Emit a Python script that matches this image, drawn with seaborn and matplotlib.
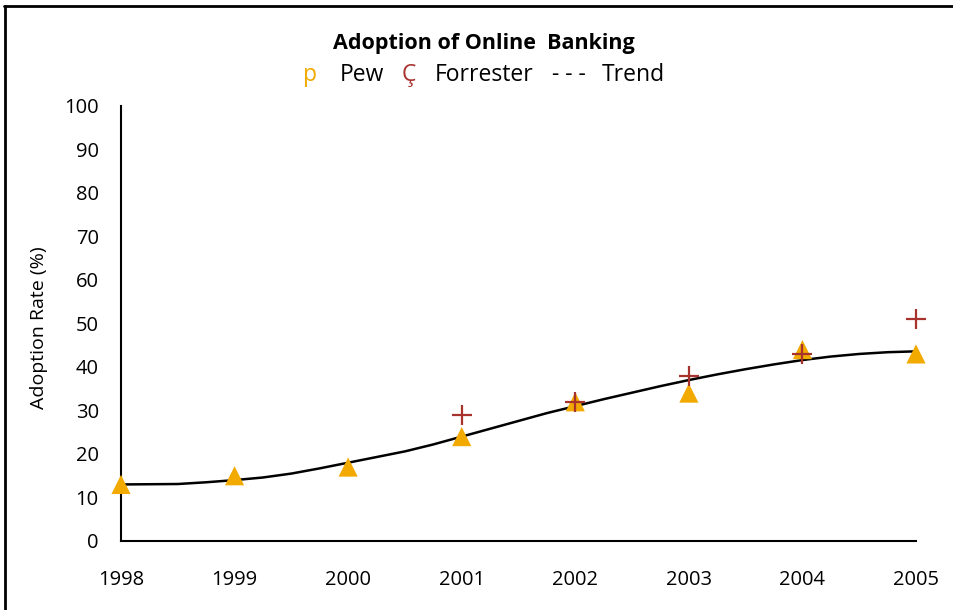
import numpy as np
import pandas as pd
import seaborn as sns
import matplotlib
matplotlib.use("Agg")
import matplotlib.pyplot as plt
from matplotlib.lines import Line2D

# ---- data ----
years = [1998, 1999, 2000, 2001, 2002, 2003, 2004, 2005]
pew = [13, 15, 17, 24, 32, 34, 44, 43]
forr_years = [2001, 2002, 2003, 2004, 2005]
forrester = [29, 32, 38, 43, 51]
trend_x = [1998.0, 1998.5, 1998.75, 1999.0, 1999.25, 1999.5, 1999.75, 2000.0, 2000.25,
           2000.5, 2000.75, 2001.0, 2001.25, 2001.5, 2001.75, 2002.0, 2002.25, 2002.5,
           2002.75, 2003.0, 2003.25, 2003.5, 2003.75, 2004.0, 2004.25, 2004.5, 2004.75, 2005.0]
trend_y = [13.0, 13.1, 13.5, 14.0, 14.6, 15.5, 16.7, 18.0, 19.3,
           20.6, 22.2, 24.0, 25.8, 27.6, 29.4, 31.0, 32.6, 34.1,
           35.6, 37.0, 38.3, 39.5, 40.6, 41.6, 42.4, 43.0, 43.4, 43.6]
yticks = list(range(0, 101, 10))

sns.set_theme(style="white")
plt.rcParams['font.family'] = ['Open Sans', 'DejaVu Sans']
plt.rcParams['text.color'] = 'black'
plt.rcParams['axes.labelcolor'] = 'black'

fig = plt.figure(figsize=(9.54, 6.10), dpi=100)
ax = fig.add_axes([121/954, 1 - 541/610, 795/954, 435/610])

pew_df = pd.DataFrame({"year": years, "rate": pew})
forr_df = pd.DataFrame({"year": forr_years, "rate": forrester})
trend_df = pd.DataFrame({"year": trend_x, "rate": trend_y})

sns.lineplot(data=trend_df, x="year", y="rate", ax=ax, color="black", lw=1.8, zorder=2)
sns.scatterplot(data=pew_df, x="year", y="rate", ax=ax, marker="^", s=190,
                color="#F2A900", edgecolor="none", zorder=3, clip_on=False)
sns.scatterplot(data=forr_df, x="year", y="rate", ax=ax, marker="+", s=200,
                color="#A8322C", linewidth=1.6, zorder=4, clip_on=False)

ax.set_xlim(1998, 2005)
ax.set_ylim(0, 100)
ax.set_xticks(years)
ax.set_xticklabels([str(y) for y in years])
ax.set_yticks(yticks)
ax.set_xlabel("")
ax.set_ylabel("Adoption Rate (%)", fontsize=14)
ax.yaxis.set_label_coords(-0.092, 0.49)
for s in ["top", "right"]:
    ax.spines[s].set_visible(False)
for s in ["left", "bottom"]:
    ax.spines[s].set_color("black")
    ax.spines[s].set_linewidth(1.5)
ax.tick_params(axis="both", which="major", direction="out", length=6, width=1.5,
               color="black", labelsize=14.5, labelcolor="black")
ax.tick_params(axis="x", pad=15)
ax.tick_params(axis="y", pad=10)
ax.grid(False)

fig.text(0.5 * (335 + 633) / 954, 1 - 44/610, "Adoption of Online  Banking",
         ha="center", va="center", fontsize=15.5, fontweight="bold")
# legend line as text
ly = 1 - 75/610
parts = [("p", "#F2A900", 303), ("Pew", "black", 340), ("Ç", "#A8322C", 402),
         ("Forrester", "black", 435), ("- - -", "black", 552), ("Trend", "black", 602)]
for t, c, x in parts:
    fig.text(x/954, ly, t, ha="left", va="center", fontsize=16.5, color=c)

# outer frame (top and left)
fig.add_artist(Line2D([4/954, 1.0], [1 - 6/610, 1 - 6/610], color="black", lw=2))
fig.add_artist(Line2D([5/954, 5/954], [0.0, 1 - 6/610], color="black", lw=2))

fig.savefig("out.png", dpi=100)
